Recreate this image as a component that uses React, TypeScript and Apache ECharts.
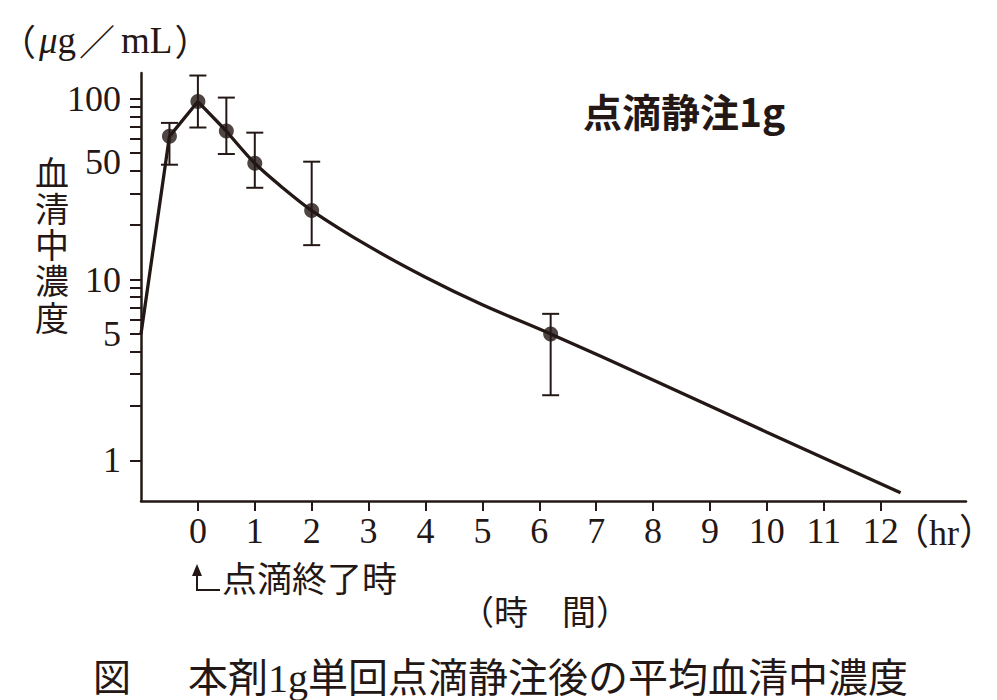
import { useEffect, useRef } from "react";
import * as echarts from "echarts";

const INK = "#231815";
const SERIF = "'Liberation Serif', 'Times New Roman', 'Noto Sans CJK JP', serif";
const CJK = "'Noto Sans CJK JP', sans-serif";

// 実測値（平均 ± SD）: 時間 (hr) / 血清中濃度 (μg/mL)
const sampleHours = [-0.5, 0, 0.5, 1, 2, 6.2];
const meanConc = [62, 96.6, 66.4, 44, 24.1, 5.0];
const errUpper = [73.6, 134.6, 101.6, 65, 44.9, 6.46];
const errLower = [43.2, 69.4, 49.5, 32.2, 15.5, 2.29];

// 推移曲線
const curveHours = [-1, -0.5, 0, 0.5, 1, 1.5, 2, 3, 4, 5, 6.2, 8, 10, 12.35];
const curveConc = [5.0, 62, 96.6, 66.4, 44, 32, 24.1, 15.3, 10.3, 7.25, 5.0, 2.78, 1.43, 0.66];
const infusionPoints = 4; // 点滴中〜直後は直線で結ぶ

const xTicks = [0, 1, 2, 3, 4, 5, 6, 7, 8, 9, 10, 11, 12];
const yTicks = [1, 2, 3, 4, 5, 6, 7, 8, 9, 10, 20, 30, 40, 50, 60, 70, 80, 90, 100];
const yLabels = [1, 5, 10, 50, 100];

const yTitleChars = ["血", "清", "中", "濃", "度"];

const lg = (v: number) => Math.log10(v);

export default function App() {
  const chartRef = useRef<HTMLDivElement>(null);

  useEffect(() => {
    if (!chartRef.current) return;
    const chart = echarts.init(chartRef.current, null, { renderer: "svg" });

    const curve = curveHours.map((h, i) => [h, lg(curveConc[i])]);

    // 縦書きの軸タイトル（1文字ずつ）
    const yTitle = yTitleChars.map((ch, i) => ({
      type: "text" as const,
      x: 52,
      y: 171 + i * 36.3,
      style: {
        text: ch,
        align: "center" as const,
        verticalAlign: "middle" as const,
        fontFamily: CJK,
        fontSize: 34,
        lineHeight: 34,
        fill: INK,
      },
    }));

    const option: echarts.EChartsOption = {
      animation: false,
      backgroundColor: "#ffffff",
      grid: { left: 141, right: 31, top: 73, bottom: 199, containLabel: false },
      xAxis: {
        type: "value",
        min: -1,
        max: 13.5,
        axisLine: { show: true, onZero: false, lineStyle: { color: INK, width: 2.5 } },
        axisTick: {
          show: true,
          length: 10,
          customValues: xTicks,
          lineStyle: { color: INK, width: 2 },
        },
        axisLabel: {
          customValues: xTicks,
          margin: 12,
          fontFamily: SERIF,
          fontSize: 36,
          color: INK,
        },
        splitLine: { show: false },
      },
      yAxis: {
        type: "value",
        min: lg(0.595),
        max: lg(139),
        axisLine: { show: true, onZero: false, lineStyle: { color: INK, width: 2.5 } },
        axisTick: {
          show: true,
          length: 11,
          customValues: yTicks.map(lg),
          lineStyle: { color: INK, width: 2 },
        },
        axisLabel: {
          customValues: yLabels.map(lg),
          margin: 20,
          fontFamily: SERIF,
          fontSize: 36,
          color: INK,
          formatter: (v: number) => {
            const n = Math.round(Math.pow(10, v));
            // 原図では「50」だけ目盛りより少し下に組まれている
            return n === 50 ? `{low|${n}}` : String(n);
          },
          rich: {
            low: {
              fontFamily: SERIF,
              fontSize: 36,
              color: INK,
              padding: [18, 0, 0, 0],
            },
          },
        },
        splitLine: { show: false },
      },
      series: [
        {
          name: "infusion",
          type: "line",
          data: curve.slice(0, infusionPoints),
          showSymbol: false,
          smooth: false,
          lineStyle: { color: INK, width: 3.3 },
          z: 2,
        },
        {
          name: "decay",
          type: "line",
          data: curve.slice(infusionPoints - 1),
          showSymbol: false,
          smooth: 0.3,
          lineStyle: { color: INK, width: 3.3 },
          z: 2,
        },
        {
          name: "sd",
          type: "custom",
          data: sampleHours.map((h, i) => [h, lg(errLower[i]), lg(errUpper[i])]),
          encode: { x: 0, y: [1, 2] },
          renderItem: (_params: any, api: any) => {
            const x = api.value(0);
            const lo = api.coord([x, api.value(1)]);
            const hi = api.coord([x, api.value(2)]);
            const cap = 8.5;
            const style = { stroke: INK, lineWidth: 2 };
            return {
              type: "group",
              children: [
                { type: "line", shape: { x1: lo[0], y1: lo[1], x2: hi[0], y2: hi[1] }, style },
                { type: "line", shape: { x1: hi[0] - cap, y1: hi[1], x2: hi[0] + cap, y2: hi[1] }, style },
                { type: "line", shape: { x1: lo[0] - cap, y1: lo[1], x2: lo[0] + cap, y2: lo[1] }, style },
              ],
            };
          },
          z: 3,
        },
        {
          name: "mean",
          type: "scatter",
          data: sampleHours.map((h, i) => [h, lg(meanConc[i])]),
          symbol: "circle",
          symbolSize: 15,
          itemStyle: { color: INK },
          z: 4,
        },
      ],
      graphic: [
        {
          type: "text",
          x: 0,
          y: 40,
          style: {
            text: "{p|（}{mu|μ}{g|g}{s|／}{m|mL}{q|）}",
            verticalAlign: "middle",
            rich: {
              p: { fontFamily: CJK, fontSize: 36, fill: INK },
              mu: { fontFamily: SERIF, fontSize: 37, fontStyle: "italic", fill: INK, padding: [0, 0, 0, 3] },
              g: { fontFamily: SERIF, fontSize: 37, fill: INK },
              s: { fontFamily: CJK, fontSize: 36, fill: INK, padding: [0, 0, 0, 3] },
              m: { fontFamily: SERIF, fontSize: 37, fill: INK, padding: [0, 0, 0, 6] },
              q: { fontFamily: CJK, fontSize: 36, fill: INK, padding: [0, 0, 0, 2] },
            },
          },
        },
        ...yTitle,
        {
          type: "text",
          x: 583,
          y: 110,
          style: {
            text: "点滴静注1g",
            verticalAlign: "middle",
            fontFamily: CJK,
            fontWeight: "bold",
            fontSize: 39,
            fill: INK,
          },
        },
        {
          type: "text",
          x: 893,
          y: 533,
          style: {
            text: "（hr）",
            verticalAlign: "middle",
            fontFamily: SERIF,
            fontSize: 36,
            fill: INK,
          },
        },
        {
          type: "polyline",
          shape: { points: [[220, 590], [197, 590], [197, 572]] },
          style: { stroke: INK, lineWidth: 2, fill: "none" },
        },
        {
          type: "polygon",
          shape: { points: [[197, 564], [192, 576], [202, 576]] },
          style: { fill: INK },
        },
        {
          type: "text",
          x: 222,
          y: 576,
          style: {
            text: "点滴終了時",
            verticalAlign: "middle",
            fontFamily: CJK,
            fontSize: 35,
            fill: INK,
          },
        },
        {
          type: "text",
          x: 460,
          y: 610,
          style: {
            text: "（時　間）",
            verticalAlign: "middle",
            fontFamily: CJK,
            fontSize: 34,
            fill: INK,
          },
        },
        {
          type: "text",
          x: 93,
          y: 678,
          style: {
            text: "図",
            verticalAlign: "middle",
            fontFamily: SERIF,
            fontSize: 38,
            fill: INK,
          },
        },
        {
          type: "text",
          x: 188,
          y: 678,
          style: {
            text: "本剤1g単回点滴静注後の平均血清中濃度",
            verticalAlign: "middle",
            fontFamily: SERIF,
            fontSize: 40,
            fill: INK,
          },
        },
      ],
    };

    chart.setOption(option);

    return () => {
      chart.dispose();
    };
  }, []);

  return (
    <div
      ref={chartRef}
      style={{ position: "absolute", left: 0, top: 0, width: 997, height: 700 }}
    />
  );
}
